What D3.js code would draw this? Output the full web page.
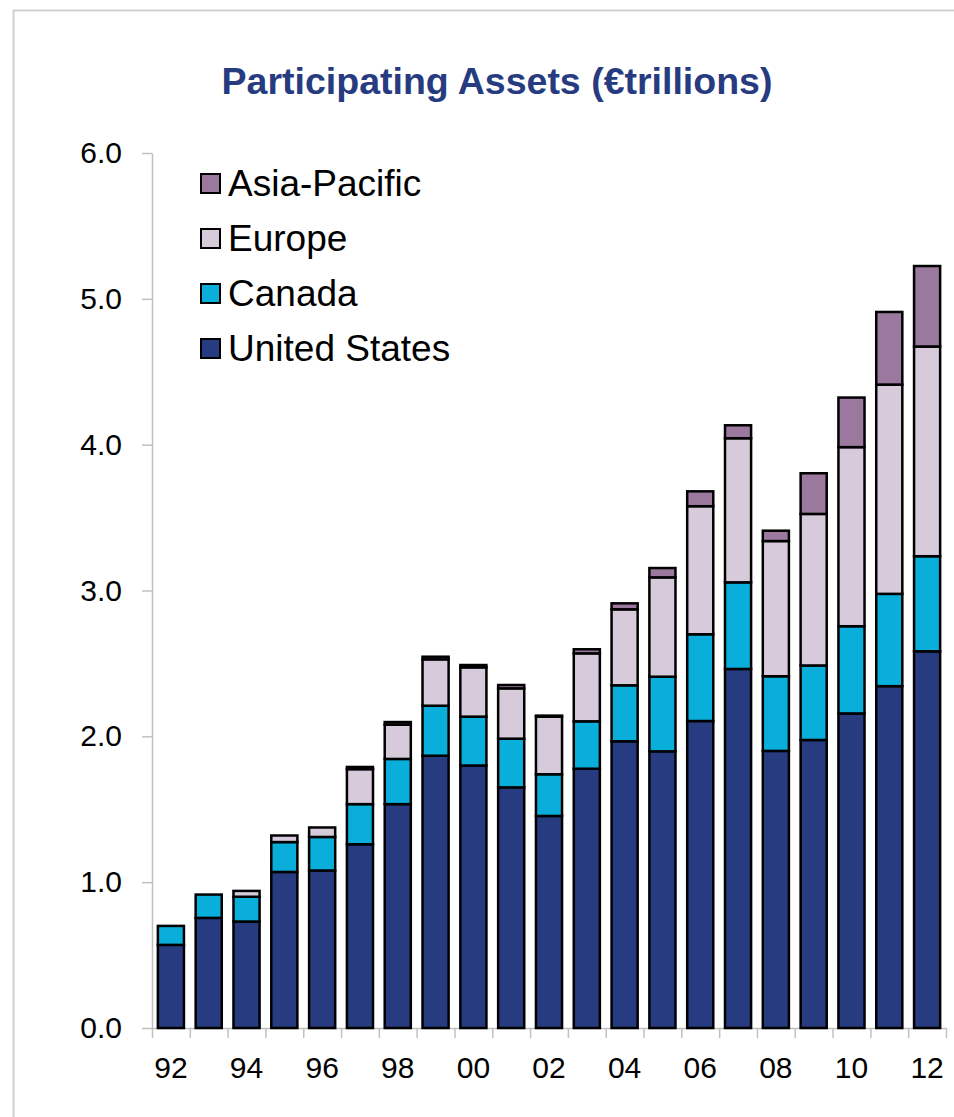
<!DOCTYPE html>
<html>
<head>
<meta charset="utf-8">
<script src="https://cdn.jsdelivr.net/npm/d3@7"></script>
<style>
  body { margin: 0; background: #fff; }
  svg { display: block; font-family: "Liberation Sans", Arial, sans-serif; }
</style>
</head>
<body>
<svg id="chart" width="954" height="1117"></svg>
<script>
// chart data (€ trillions)
const years = ["92","93","94","95","96","97","98","99","00","01","02","03","04","05","06","07","08","09","10","11","12"];
const unitedStates = [0.57,0.755,0.73,1.07,1.08,1.26,1.535,1.867,1.80,1.65,1.454,1.778,1.966,1.897,2.105,2.462,1.90,1.975,2.157,2.344,2.583];
const canada = [0.13,0.16,0.17,0.205,0.23,0.275,0.31,0.343,0.335,0.334,0.286,0.325,0.384,0.512,0.595,0.594,0.512,0.511,0.598,0.633,0.652];
const europe = [0,0,0.04,0.045,0.065,0.24,0.235,0.318,0.338,0.345,0.395,0.466,0.521,0.681,0.878,0.988,0.927,1.039,1.228,1.435,1.438];
const asiaPacific = [0,0,0,0,0,0.015,0.018,0.018,0.016,0.023,0.007,0.028,0.041,0.064,0.102,0.089,0.071,0.279,0.34,0.498,0.552];
const yTicks = [0,1,2,3,4,5,6];
const xLabels = ["92","94","96","98","00","02","04","06","08","10","12"];

const seriesKeys = ["us","ca","eu","ap"];
const seriesNames = {us: "United States", ca: "Canada", eu: "Europe", ap: "Asia-Pacific"};
const colors = {us: "#273b81", ca: "#0aaeda", eu: "#d7cbdb", ap: "#9b789d"};

// table for d3.stack
let rows = years.map(function (yr, i) {
    return {year: yr, us: unitedStates[i], ca: canada[i], eu: europe[i], ap: asiaPacific[i]};
});

let svg = d3.select("#chart");
let plotLeft = 152, plotRight = 946, plotTop = 153, plotBottom = 1028;

// outer frame
svg.append("rect")
    .attr("x", 13.5).attr("y", 10.5)
    .attr("width", 1000).attr("height", 1200)
    .attr("fill", "none")
    .attr("stroke", "#cfcfcf")
    .attr("stroke-width", 2);

// title
svg.append("text")
    .attr("x", 497).attr("y", 94)
    .attr("text-anchor", "middle")
    .attr("font-size", 37.5)
    .attr("font-weight", "bold")
    .attr("fill", "#273b81")
    .text("Participating Assets (€trillions)");

let x = d3.scaleBand()
    .domain(years)
    .range([plotLeft, plotRight])
    .paddingInner(0.31)
    .paddingOuter(0.155);

let y = d3.scaleLinear()
    .domain([0, 6])
    .range([plotBottom, plotTop]);

// y axis
let yAxis = d3.axisLeft(y)
    .tickValues(yTicks)
    .tickFormat(d3.format(".1f"))
    .tickSize(10)
    .tickSizeOuter(0)
    .tickPadding(20);

let gy = svg.append("g")
    .attr("transform", "translate(" + plotLeft + ",0)")
    .call(yAxis);
gy.select(".domain").attr("stroke", "#c0c0c0").attr("stroke-width", 1.5);
gy.selectAll(".tick line").attr("stroke", "#c0c0c0").attr("stroke-width", 1.5);
gy.selectAll(".tick text")
    .attr("font-size", 30)
    .attr("font-family", "Liberation Sans, Arial, sans-serif")
    .attr("fill", "#000");

// x axis: boundary ticks between categories
let xEdge = d3.scaleLinear().domain([0, years.length]).range([plotLeft, plotRight]);
let gx = svg.append("g")
    .attr("transform", "translate(0," + plotBottom + ")")
    .call(d3.axisBottom(xEdge).tickValues(d3.range(years.length + 1)).tickFormat("").tickSize(10).tickSizeOuter(0));
gx.select(".domain").attr("stroke", "#c0c0c0").attr("stroke-width", 1.5);
gx.selectAll(".tick line").attr("stroke", "#c0c0c0").attr("stroke-width", 1.5);

// x labels (every other year)
let gxl = svg.append("g")
    .attr("transform", "translate(0," + plotBottom + ")")
    .call(d3.axisBottom(x).tickValues(xLabels).tickSize(0));
gxl.select(".domain").remove();
gxl.selectAll(".tick text")
    .attr("y", 50)
    .attr("dy", null)
    .attr("font-size", 30)
    .attr("font-family", "Liberation Sans, Arial, sans-serif")
    .attr("fill", "#000");

// stacked bars
let stacked = d3.stack().keys(seriesKeys)(rows);

svg.append("g").selectAll("g")
    .data(stacked)
    .enter().append("g")
    .attr("fill", function (d) { return colors[d.key]; })
    .selectAll("rect")
    .data(function (d) { return d; })
    .enter().append("rect")
    .attr("x", function (d) { return x(d.data.year); })
    .attr("width", x.bandwidth())
    .attr("y", function (d) { return y(d[1]); })
    .attr("height", function (d) { return y(d[0]) - y(d[1]); })
    .attr("stroke", "#000")
    .attr("stroke-width", 2.5);

// legend
let legendKeys = ["ap","eu","ca","us"];
let legend = svg.append("g").selectAll("g")
    .data(legendKeys)
    .enter().append("g")
    .attr("transform", function (d, i) { return "translate(201," + (196 + i * 55) + ")"; });

legend.append("rect")
    .attr("x", 0).attr("y", -22)
    .attr("width", 19).attr("height", 19)
    .attr("fill", function (d) { return colors[d]; })
    .attr("stroke", "#000")
    .attr("stroke-width", 2);

legend.append("text")
    .attr("x", 27).attr("y", 0)
    .attr("font-size", 37)
    .attr("fill", "#000")
    .text(function (d) { return seriesNames[d]; });
</script>
</body>
</html>
